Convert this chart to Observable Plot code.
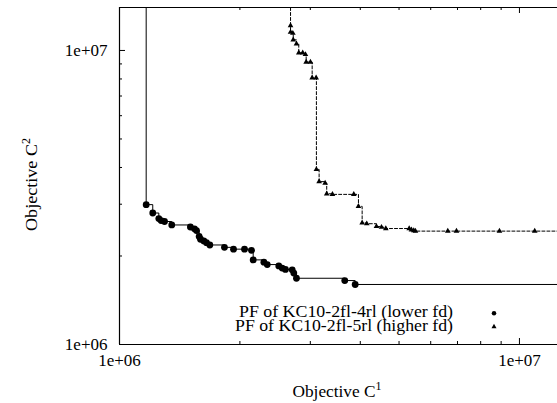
<!DOCTYPE html>
<html><head><meta charset="utf-8">
<script src="https://cdn.jsdelivr.net/npm/d3@7"></script>
<script src="https://cdn.jsdelivr.net/npm/@observablehq/plot@0.6"></script>
<style>body{margin:0;background:#fff} svg text{font-family:'Liberation Serif','Times New Roman',serif !important;}</style>
</head><body><div id="chart"></div>
<script>
// Lower fd front (circles)
const lowerX = [1.166e6,1.211e6,1.254e6,1.271e6,1.296e6,1.351e6,1.504e6,1.540e6,1.558e6,1.582e6,1.594e6,1.625e6,1.650e6,1.682e6,1.830e6,1.928e6,2.054e6,2.138e6,2.159e6,2.296e6,2.341e6,2.502e6,2.551e6,2.600e6,2.703e6,2.728e6,2.770e6,3.658e6,3.884e6];
const lowerY = [2.99e6,2.80e6,2.68e6,2.64e6,2.62e6,2.55e6,2.51e6,2.475e6,2.44e6,2.33e6,2.28e6,2.25e6,2.22e6,2.18e6,2.14e6,2.11e6,2.11e6,2.09e6,1.94e6,1.905e6,1.87e6,1.85e6,1.82e6,1.80e6,1.795e6,1.75e6,1.68e6,1.65e6,1.60e6];
// Higher fd front (triangles)
const higherX = [2.677e6,2.677e6,2.713e6,2.719e6,2.770e6,2.807e6,2.872e6,2.917e6,2.929e6,3.002e6,3.032e6,3.102e6,3.107e6,3.156e6,3.267e6,3.297e6,3.407e6,3.853e6,3.958e6,4.043e6,4.152e6,4.390e6,4.519e6,4.633e6,5.301e6,5.370e6,5.442e6,5.495e6,6.620e6,6.959e6,8.913e6,1.092e7];
const higherY = [1.216e7,1.154e7,1.145e7,1.087e7,1.054e7,9.82e6,9.82e6,9.69e6,9.13e6,9.13e6,8.07e6,8.07e6,3.94e6,3.58e6,3.54e6,3.255e6,3.24e6,3.24e6,2.95e6,2.59e6,2.575e6,2.52e6,2.505e6,2.48e6,2.48e6,2.455e6,2.44e6,2.43e6,2.43e6,2.43e6,2.43e6,2.43e6];

const majorTicks = [1e6, 1e7];
const tickLabels = ["1e+06", "1e+07"];
const minorTicks = [2e6,3e6,4e6,5e6,6e6,7e6,8e6,9e6];
const xDomain = [1e6, 1.245e7];
const yDomain = [1e6, 1.4e7];
const legendLabels = ["PF of KC10-2fl-4rl (lower fd)", "PF of KC10-2fl-5rl (higher fd)"];
const xLabel = ["Objective C", "1"];
const yLabel = ["Objective C", "2"];

const lowerPts = lowerX.map((x, i) => ({x, y: lowerY[i]}));
const higherPts = higherX.map((x, i) => ({x, y: higherY[i]}));
// lines extend from the top of the frame and to the right edge
const lowerLine = [{x: lowerX[0], y: yDomain[1]}, ...lowerPts, {x: xDomain[1], y: lowerY[lowerY.length - 1]}];
const higherLine = [{x: higherX[0], y: yDomain[1]}, ...higherPts, {x: xDomain[1], y: higherY[higherY.length - 1]}];

const W = 557, H = 403, mL = 119, mR = 0, mT = 7, mB = 59;
const fw = W - mL - mR, fh = H - mT - mB;
const font = "'Liberation Serif', 'Times New Roman', serif";
const fmt = d => tickLabels[majorTicks.indexOf(d)];

const plot = Plot.plot({
  width: W, height: H,
  marginLeft: mL, marginRight: mR, marginTop: mT, marginBottom: mB,
  style: {fontFamily: font, fontSize: "17px", background: "white", color: "black", overflow: "visible"},
  x: {type: "log", domain: xDomain, axis: null},
  y: {type: "log", domain: yDomain, axis: null},
  marks: [
    Plot.line(lowerLine, {x: "x", y: "y", curve: "step-after", stroke: "black", strokeWidth: 1}),
    Plot.line(higherLine, {x: "x", y: "y", curve: "step-after", stroke: "black", strokeWidth: 1, strokeDasharray: "3,2"}),
    Plot.dot(lowerPts, {x: "x", y: "y", r: 3.4, fill: "black", stroke: "none"}),
    Plot.dot(higherPts, {x: "x", y: "y", r: 2.1, symbol: "triangle", fill: "black", stroke: "none"}),
    // frame: left, bottom, top
    Plot.ruleX([xDomain[0]], {stroke: "black", strokeWidth: 1.2}),
    Plot.ruleY([yDomain[0]], {stroke: "black", strokeWidth: 1.2}),
    Plot.ruleY([yDomain[1]], {stroke: "black", strokeWidth: 1.2}),
    // inward ticks
    Plot.tickX(minorTicks, {x: d => d, insetTop: fh - 3, stroke: "black"}),
    Plot.tickX(minorTicks, {x: d => d, insetBottom: fh - 3, stroke: "black"}),
    Plot.tickX(majorTicks, {x: d => d, insetTop: fh - 6, stroke: "black"}),
    Plot.tickX(majorTicks, {x: d => d, insetBottom: fh - 6, stroke: "black"}),
    Plot.tickY(minorTicks, {y: d => d, insetRight: fw - 3, stroke: "black"}),
    Plot.tickY(majorTicks, {y: d => d, insetRight: fw - 6, stroke: "black"}),
    Plot.axisX(majorTicks, {anchor: "bottom", label: null, tickSize: 0, tickPadding: 9, tickFormat: fmt, fontSize: 17}),
    Plot.axisY(majorTicks, {anchor: "left", label: null, tickSize: 0, tickPadding: 12, tickFormat: fmt, fontSize: 17})
  ]
});
document.getElementById("chart").appendChild(plot);

const svg = d3.select(plot);
svg.selectAll("text").style("font-family", font);

// axis titles
const xt = svg.append("text").attr("x", 292.5).attr("y", 396.5).attr("text-anchor", "start")
  .style("font-family", font).attr("font-size", 16).attr("fill", "black");
xt.append("tspan").attr("textLength", 83).attr("lengthAdjust", "spacingAndGlyphs").text(xLabel[0]);
xt.append("tspan").attr("dy", -7).attr("font-size", 12).text(xLabel[1]);

const yt = svg.append("text").attr("transform", "translate(36.5,231) rotate(-90)").attr("text-anchor", "start")
  .style("font-family", font).attr("font-size", 16).attr("fill", "black");
yt.append("tspan").attr("textLength", 87).attr("lengthAdjust", "spacingAndGlyphs").text(yLabel[0]);
yt.append("tspan").attr("dy", -7).attr("font-size", 12).text(yLabel[1]);

// legend
const legendBase = [317.3, 330.7];
const legendWidth = [214, 218];
legendLabels.forEach((lab, i) => {
  svg.append("text").attr("x", 453 - legendWidth[i]).attr("y", legendBase[i]).attr("text-anchor", "start")
    .style("font-family", font).attr("font-size", 16).attr("fill", "black")
    .attr("textLength", legendWidth[i]).attr("lengthAdjust", "spacingAndGlyphs").text(lab);
  svg.append("path").attr("transform", `translate(494,${legendBase[i] - 4})`)
    .attr("d", d3.symbol().type(i === 0 ? d3.symbolCircle : d3.symbolTriangle).size(i === 0 ? 16 : 11)())
    .attr("fill", "black");
});
</script>
</body></html>
